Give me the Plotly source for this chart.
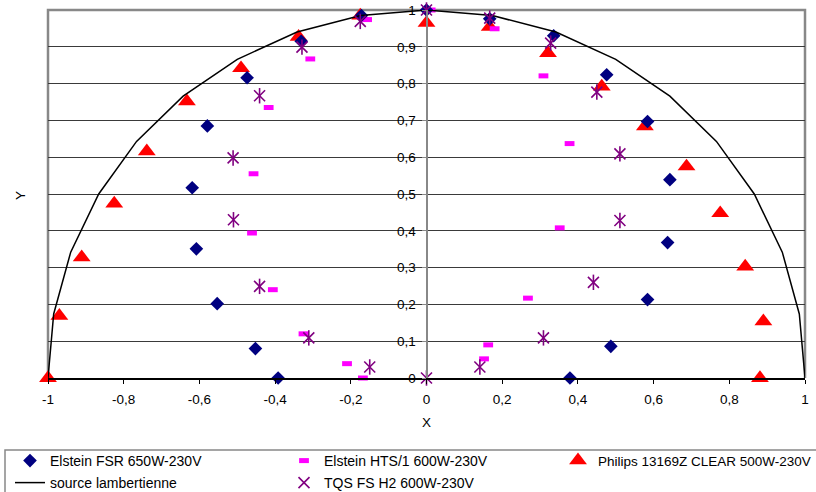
import plotly.graph_objects as go

# ---------------- data ----------------
x_tickvals = [-1, -0.8, -0.6, -0.4, -0.2, 0, 0.2, 0.4, 0.6, 0.8, 1]
x_ticktext = ["-1", "-0,8", "-0,6", "-0,4", "-0,2", "0", "0,2", "0,4", "0,6", "0,8", "1"]
y_tickvals = [0, 0.1, 0.2, 0.3, 0.4, 0.5, 0.6, 0.7, 0.8, 0.9, 1]
y_ticktext = ["0", "0,1", "0,2", "0,3", "0,4", "0,5", "0,6", "0,7", "0,8", "0,9", "1"]

fsr_x = [-0.392, -0.452, -0.553, -0.608, -0.619, -0.579, -0.474, -0.331, -0.172, 0.0,
         0.167, 0.336, 0.476, 0.584, 0.643, 0.637, 0.584, 0.487, 0.379]
fsr_y = [0.0, 0.080, 0.202, 0.351, 0.517, 0.685, 0.816, 0.915, 0.985, 1.0,
         0.976, 0.930, 0.824, 0.697, 0.539, 0.368, 0.213, 0.086, 0.0]

hts_x = [-0.168, -0.210, -0.325, -0.406, -0.461, -0.457, -0.417, -0.307, -0.157, 0.011,
         0.180, 0.309, 0.378, 0.352, 0.268, 0.163, 0.152]
hts_y = [0.0, 0.039, 0.120, 0.240, 0.394, 0.555, 0.735, 0.867, 0.974, 1.0,
         0.949, 0.821, 0.637, 0.408, 0.217, 0.090, 0.052]

philips_x = [-1.0, -0.970, -0.911, -0.825, -0.739, -0.633, -0.490, -0.338, -0.175, 0.0,
             0.167, 0.321, 0.463, 0.577, 0.687, 0.776, 0.842, 0.890, 0.881]
philips_y = [0.0, 0.169, 0.328, 0.474, 0.616, 0.752, 0.842, 0.927, 0.985, 0.965,
             0.954, 0.883, 0.792, 0.684, 0.575, 0.448, 0.303, 0.154, 0.0]

lamb_x = [-1.0, -0.985, -0.940, -0.866, -0.766, -0.643, -0.500, -0.342, -0.174, 0.0,
          0.174, 0.342, 0.500, 0.643, 0.766, 0.866, 0.940, 0.985, 1.0]
lamb_y = [0.0, 0.174, 0.342, 0.500, 0.643, 0.766, 0.866, 0.940, 0.985, 1.0,
          0.985, 0.940, 0.866, 0.766, 0.643, 0.500, 0.342, 0.174, 0.0]

tqs_x = [-0.150, -0.311, -0.441, -0.510, -0.511, -0.441, -0.329, -0.175, 0.0, 0.167,
         0.328, 0.450, 0.511, 0.511, 0.441, 0.309, 0.141, 0.0]
tqs_y = [0.030, 0.109, 0.249, 0.430, 0.598, 0.767, 0.899, 0.969, 1.0, 0.978,
         0.910, 0.777, 0.609, 0.428, 0.260, 0.109, 0.030, 0.0]

names = ["Elstein FSR 650W-230V", "Elstein HTS/1 600W-230V",
         "Philips 13169Z CLEAR 500W-230V", "source lambertienne", "TQS FS H2 600W-230V"]

FONT = "Liberation Sans, Arial, sans-serif"
NAVY, MAGENTA, RED, PURPLE = "#000080", "#FF00FF", "#FF0000", "#800080"

fig = go.Figure()

fig.add_trace(go.Scatter(
    x=philips_x, y=philips_y, mode="markers", name=names[2],
    marker=dict(symbol="triangle-up", size=15.5, color=RED),
    cliponaxis=False, legend="legend3", legendwidth=240))

fig.add_trace(go.Scatter(
    x=hts_x, y=hts_y, mode="markers", name=names[1],
    marker=dict(symbol="line-ew-open", size=7, color=MAGENTA,
                line=dict(color=MAGENTA, width=5)),
    cliponaxis=False, legend="legend", legendrank=2, legendwidth=229))

fig.add_trace(go.Scatter(
    x=fsr_x, y=fsr_y, mode="markers", name=names[0],
    marker=dict(symbol="diamond", size=10.5, color=NAVY),
    cliponaxis=False, legend="legend", legendrank=1, legendwidth=229))

fig.add_trace(go.Scatter(
    x=lamb_x, y=lamb_y, mode="lines", name=names[3],
    line=dict(color="#000000", width=1.5),
    cliponaxis=False, legend="legend2", legendrank=1, legendwidth=229))

fig.add_trace(go.Scatter(
    x=tqs_x, y=tqs_y, mode="markers", name=names[4],
    marker=dict(symbol="x-thin-open", size=11, color=PURPLE,
                line=dict(color=PURPLE, width=1.6)),
    cliponaxis=False, legend="legend2", legendrank=2, legendwidth=170,
    legendgroup="tqs"))

fig.add_trace(go.Scatter(
    x=tqs_x, y=tqs_y, mode="markers", name=names[4], showlegend=False,
    marker=dict(symbol="line-ns-open", size=11, color=PURPLE,
                line=dict(color=PURPLE, width=1.6)),
    cliponaxis=False, legendgroup="tqs"))

# plot area: x 48..805 px, y 10..378 px
L, R, T, B = 48, 11, 10, 114
W, H = 816, 492
pw, ph = W - L - R, H - T - B


def px_x(p):
    return (p - L) / pw


def px_y(p):
    return (H - B - p) / ph


def legend_common(size):
    return dict(
        orientation="h", xref="paper", yref="paper", xanchor="left", yanchor="top",
        bgcolor="rgba(0,0,0,0)", borderwidth=0,
        font=dict(family=FONT, size=size, color="#000000"), traceorder="normal",
    )


fig.update_layout(
    width=W, height=H,
    margin=dict(l=L, r=R, t=T, b=B, autoexpand=False),
    paper_bgcolor="white", plot_bgcolor="white",
    font=dict(family=FONT, size=13.5, color="#000000"),
    showlegend=True,
    xaxis=dict(
        range=[-1, 1], tickmode="array", tickvals=x_tickvals, ticktext=x_ticktext,
        ticks="outside", ticklen=4, tickcolor="#000000", tickwidth=1,
        showline=True, linecolor="#000000", linewidth=1.5,
        showgrid=False, zeroline=False, automargin=False, fixedrange=True,
        tickfont=dict(family=FONT, size=13.5, color="#000000"),
        ticklabelstandoff=4,
    ),
    yaxis=dict(
        range=[0, 1], tickmode="array", tickvals=y_tickvals, ticktext=y_ticktext,
        anchor="free", position=0.5,
        ticks="outside", ticklen=4, tickcolor="#888888", tickwidth=1,
        showline=True, linecolor="#888888", linewidth=2,
        showgrid=True, gridcolor="#3a3a3a", gridwidth=1,
        zeroline=False, automargin=False, fixedrange=True,
        tickfont=dict(family=FONT, size=13.5, color="#000000"),
        ticklabelstandoff=3,
    ),
    legend=dict(x=px_x(10), y=px_y(445), **legend_common(14)),
    legend2=dict(x=px_x(10), y=px_y(467), **legend_common(14)),
    legend3=dict(x=px_x(10 + 2 * 274), y=px_y(445), **legend_common(13.5)),
    annotations=[
        dict(text="X", x=0.5, y=px_y(422.5), xref="paper", yref="paper",
             showarrow=False, xanchor="center", yanchor="middle",
             font=dict(family=FONT, size=13.5, color="#000000")),
        dict(text="Y", x=px_x(20), y=px_y(195), xref="paper", yref="paper",
             showarrow=False, xanchor="center", yanchor="middle", textangle=-90,
             font=dict(family=FONT, size=13.5, color="#000000")),
    ],
    shapes=[
        # plot frame (top, left, right) in grey
        dict(type="path", xref="paper", yref="paper", layer="below",
             path="M 0,0 L 0,1 L 1,1 L 1,0",
             line=dict(color="#888888", width=2.5)),
        # legend box
        dict(type="rect", xref="paper", yref="paper", layer="below",
             x0=px_x(5), x1=px_x(830), y0=px_y(450), y1=px_y(505),
             line=dict(color="#888888", width=1.5), fillcolor="rgba(0,0,0,0)"),
    ],
)

fig.write_html("out.html")
